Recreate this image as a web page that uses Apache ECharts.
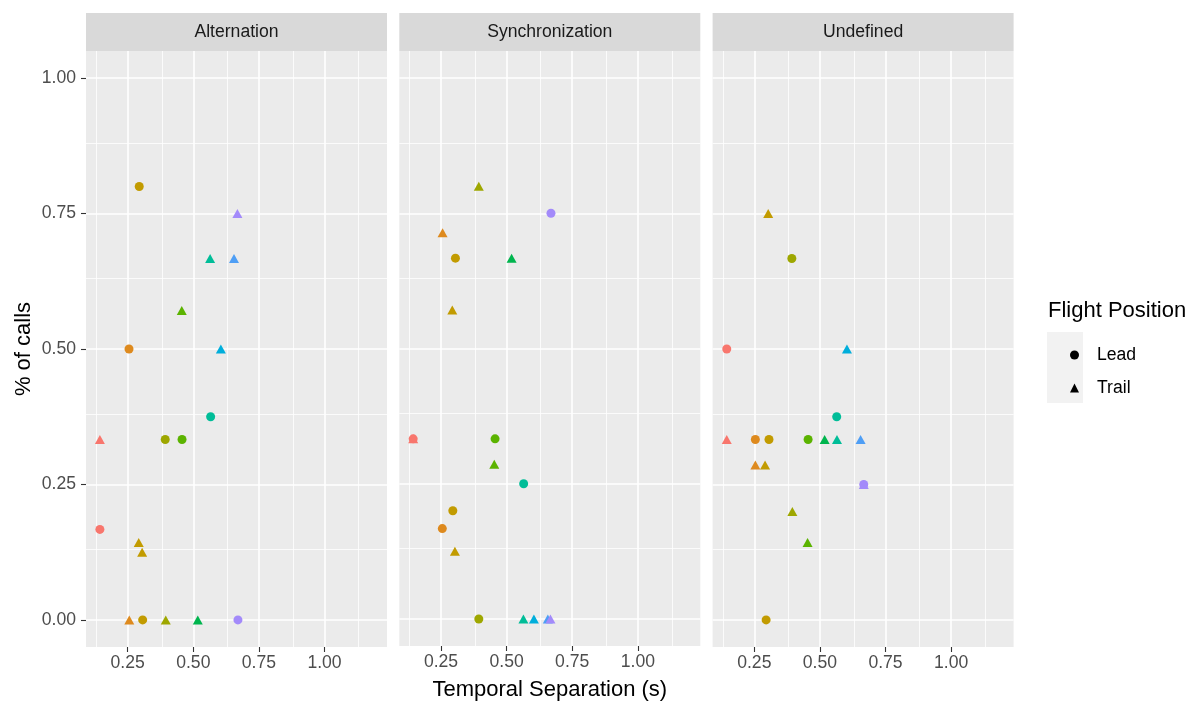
<!DOCTYPE html>
<html><head><meta charset="utf-8">
<script src="https://cdn.jsdelivr.net/npm/echarts@6/dist/echarts.min.js"></script>
<style>html,body{margin:0;padding:0;background:#fff}#c{width:1188px;height:706px}</style>
</head><body><div id="c"></div>
<script>
// ---- data ----
const panelNames = ['Alternation', 'Synchronization', 'Undefined'];

const altX   = [0.294, 0.668, 0.564, 0.655, 0.456, 0.255, 0.605, 0.566, 0.144, 0.393, 0.457, 0.144, 0.292, 0.305, 0.256, 0.307, 0.395, 0.517, 0.670];
const altY   = [0.8, 0.75, 0.667, 0.667, 0.571, 0.5, 0.5, 0.375, 0.333, 0.333, 0.333, 0.167, 0.143, 0.125, 0, 0, 0, 0, 0];
const altPos = ['Lead','Trail','Trail','Trail','Trail','Lead','Trail','Lead','Trail','Lead','Lead','Lead','Trail','Trail','Trail','Lead','Trail','Trail','Lead'];
const altGrp = [2, 9, 6, 8, 4, 1, 7, 6, 0, 3, 4, 0, 2, 2, 1, 2, 3, 5, 9];

const synX   = [0.394, 0.669, 0.256, 0.305, 0.519, 0.293, 0.144, 0.144, 0.456, 0.453, 0.565, 0.295, 0.255, 0.303, 0.394, 0.564, 0.604, 0.657, 0.667];
const synY   = [0.8, 0.75, 0.714, 0.667, 0.667, 0.571, 0.333, 0.333, 0.333, 0.286, 0.25, 0.2, 0.167, 0.125, 0, 0, 0, 0, 0];
const synPos = ['Trail','Lead','Trail','Lead','Trail','Trail','Trail','Lead','Lead','Trail','Lead','Lead','Lead','Trail','Lead','Trail','Trail','Trail','Trail'];
const synGrp = [3, 9, 1, 2, 5, 2, 0, 0, 4, 4, 6, 2, 1, 2, 3, 6, 7, 8, 9];

const undX   = [0.303, 0.393, 0.145, 0.603, 0.564, 0.145, 0.254, 0.306, 0.455, 0.518, 0.565, 0.655, 0.254, 0.291, 0.667, 0.667, 0.395, 0.453, 0.295];
const undY   = [0.75, 0.667, 0.5, 0.5, 0.375, 0.333, 0.333, 0.333, 0.333, 0.333, 0.333, 0.333, 0.286, 0.286, 0.25, 0.25, 0.2, 0.143, 0];
const undPos = ['Trail','Lead','Lead','Trail','Lead','Trail','Lead','Lead','Lead','Trail','Trail','Trail','Trail','Trail','Trail','Lead','Trail','Trail','Lead'];
const undGrp = [2, 3, 0, 7, 6, 0, 1, 2, 4, 5, 6, 8, 1, 2, 9, 9, 3, 4, 2];

const positions = ['Lead', 'Trail'];
const xTicks = [0.25, 0.5, 0.75, 1.0];
const xMinor = [0.125, 0.375, 0.625, 0.875, 1.125];
const yTicks = [0, 0.25, 0.5, 0.75, 1.0];
const yMinor = [0.125, 0.375, 0.625, 0.875];

// ---- styles ----
const groupPalette = ['#F8766D', '#DE8A1E', '#C29B00', '#9EA700', '#5BB300', '#00B54E', '#00BD98', '#00AEDB', '#4E9EF5', '#A38AFA'];
const FONT = '"Liberation Sans", Arial, sans-serif';
const panelLefts = [86, 399.3, 712.6];
const panelW = 301, panelTop = 51, panelH = 596;

const panelData = [
  {x: altX, y: altY, pos: altPos, grp: altGrp},
  {x: synX, y: synY, pos: synPos, grp: synGrp},
  {x: undX, y: undY, pos: undPos, grp: undGrp}
];

const grids = [], xAxes = [], yAxes = [], series = [], graphics = [];
panelNames.forEach((name, i) => {
  grids.push({left: panelLefts[i], top: panelTop, width: panelW, height: panelH,
    show: true, backgroundColor: '#EBEBEB', borderWidth: 0, containLabel: false});
  xAxes.push({
    type: 'value', gridIndex: i, min: 0.0911, max: 1.238, position: 'bottom',
    axisLine: {show: false, onZero: false},
    axisTick: {show: true, customValues: xTicks, length: 5, lineStyle: {color: '#333333', width: 1.1}},
    axisLabel: {show: true, customValues: xTicks, formatter: v => v.toFixed(2), color: '#4D4D4D',
      fontSize: 17.6, fontFamily: FONT, margin: 7},
    splitLine: {show: false},
    name: i === 1 ? 'Temporal Separation (s)' : '',
    nameLocation: 'middle', nameGap: 33,
    nameTextStyle: {fontSize: 22, color: '#000', fontFamily: FONT}
  });
  yAxes.push({
    type: 'value', gridIndex: i, min: -0.05, max: 1.05, position: 'left',
    axisLine: {show: false, onZero: false},
    axisTick: {show: i === 0, customValues: yTicks, length: 5, lineStyle: {color: '#333333', width: 1.1}},
    axisLabel: {show: i === 0, customValues: yTicks, formatter: v => v.toFixed(2), color: '#4D4D4D',
      fontSize: 17.6, fontFamily: FONT, margin: 10},
    splitLine: {show: false},
    name: i === 0 ? '% of calls' : '',
    nameLocation: 'middle', nameGap: 51,
    nameTextStyle: {fontSize: 22, color: '#000', fontFamily: FONT}
  });
  // gridlines via markLine on a helper series
  const ml = [];
  xMinor.forEach(v => ml.push({xAxis: v, lineStyle: {color: '#FFFFFF', width: 0.8, type: 'solid'}}));
  yMinor.forEach(v => ml.push({yAxis: v, lineStyle: {color: '#FFFFFF', width: 0.8, type: 'solid'}}));
  xTicks.forEach(v => ml.push({xAxis: v, lineStyle: {color: '#FFFFFF', width: 1.6, type: 'solid'}}));
  yTicks.forEach(v => ml.push({yAxis: v, lineStyle: {color: '#FFFFFF', width: 1.6, type: 'solid'}}));
  series.push({
    type: 'scatter', name: 'grid' + i, xAxisIndex: i, yAxisIndex: i, data: [], z: 1, silent: true,
    markLine: {silent: true, symbol: ['none', 'none'], label: {show: false}, animation: false, data: ml, z: 1}
  });
  const pd = panelData[i];
  positions.forEach(p => {
    const data = [];
    pd.x.forEach((xv, k) => {
      if (pd.pos[k] === p) data.push({value: [xv, pd.y[k]], itemStyle: {color: groupPalette[pd.grp[k]]}});
    });
    series.push({
      type: 'scatter', name: p, xAxisIndex: i, yAxisIndex: i, z: 10,
      symbol: p === 'Lead' ? 'circle' : 'triangle',
      symbolSize: p === 'Lead' ? 9 : [10, 9],
      itemStyle: {color: '#000', opacity: 1},
      data: data
    });
  });
  // strip
  graphics.push({type: 'rect', left: panelLefts[i], top: 13, shape: {width: panelW, height: 38},
    style: {fill: '#D9D9D9'}, silent: true});
  graphics.push({type: 'text', x: panelLefts[i] + panelW / 2, y: 32,
    style: {text: name, fill: '#1A1A1A', font: '17.6px ' + FONT, textAlign: 'center', textVerticalAlign: 'middle'}, silent: true});
});

// legend decorations
graphics.push({type: 'text', x: 1048, y: 311,
  style: {text: 'Flight Position', fill: '#000', font: '22px ' + FONT, textAlign: 'left', textVerticalAlign: 'middle'}});
graphics.push({type: 'rect', left: 1047, top: 332, shape: {width: 36, height: 71}, style: {fill: '#F2F2F2'}, z: -1});

const chart = echarts.init(document.getElementById('c'), null, {renderer: 'canvas'});
chart.setOption({
  animation: false,
  backgroundColor: '#FFFFFF',
  grid: grids, xAxis: xAxes, yAxis: yAxes, series: series,
  legend: {
    orient: 'vertical', left: 1065, top: 341, itemGap: 15, itemWidth: 9, itemHeight: 9,
    selectedMode: false,
    data: [{name: 'Lead', icon: 'circle'}, {name: 'Trail', icon: 'triangle'}],
    itemStyle: {color: '#000'},
    textStyle: {fontSize: 17.6, color: '#000', fontFamily: FONT, padding: [0, 0, 0, 13]}
  },
  graphic: graphics
});
</script></body></html>
